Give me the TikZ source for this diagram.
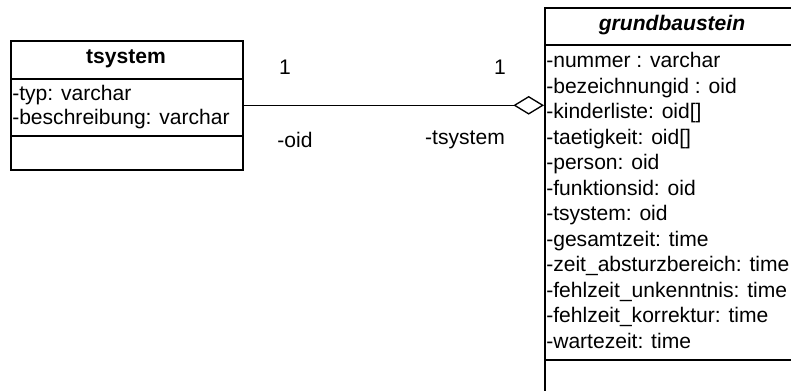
\documentclass[tikz,border=0pt]{standalone}
\usepackage{fontspec}
\setmainfont{Liberation Sans}
\usetikzlibrary{arrows.meta,positioning}

\begin{document}
\begin{tikzpicture}[
  x=0.75pt, y=-0.75pt,
  classbox/.style={draw, line width=1.2pt, inner sep=0pt, anchor=north west},
  classname/.style={font=\fontsize{15.8}{18}\selectfont\bfseries},
  attr/.style={font=\fontsize{15.8}{18}\selectfont, anchor=west, inner sep=0pt,
    text height=11.5pt, text depth=3pt},
  headsep/.style={line width=1pt},
  opsep/.style={line width=1.5pt},
  aggr/.style={-{Diamond[open, length=23pt, width=14pt, line width=1pt]}, line width=0.9pt},
  rolelabel/.style={font=\fontsize{15.8}{18}\selectfont},
]
\useasboundingbox (0,0) rectangle (791,390);
\clip (0,0) rectangle (791,390);

% ===== tsystem =====
\node[classbox, minimum width=174pt, minimum height=96.75pt] (tsys) at (10,40) {};
\node[classname] (tsysname) at (126,59) {tsystem};
\draw[headsep] (tsys.north west |- 0,79) -- (tsys.north east |- 0,79);
\node[attr] (ta1) at (12,95) {-typ: varchar};
\node[attr] (ta2) at (12,119) {-beschreibung: varchar};
\draw[opsep] (tsys.north west |- 0,136) -- (tsys.north east |- 0,136);

% ===== grundbaustein =====
\node[classbox, minimum width=192pt, minimum height=294.75pt] (grund) at (544,7) {};
\node[classname, font=\fontsize{15.8}{18}\selectfont\bfseries\itshape] (grundname) at (672,25) {grundbaustein};
\draw[headsep] (grund.north west |- 0,45) -- (grund.north east |- 0,45);
\foreach \txt [count=\i] in {
  {-nummer : varchar},
  {-bezeichnungid : oid},
  {-kinderliste: oid[]},
  {-taetigkeit: oid[]},
  {-person: oid},
  {-funktionsid: oid},
  {-tsystem: oid},
  {-gesamtzeit: time},
  {-zeit\_absturzbereich: time},
  {-fehlzeit\_unkenntnis: time},
  {-fehlzeit\_korrektur: time},
  {-wartezeit: time}}
  \node[attr] (ga\i) at (546, 36.5+25.5*\i) {\txt};
\draw[opsep] (grund.north west |- 0,360) -- (grund.north east |- 0,360);

% ===== aggregation =====
\draw[aggr] (tsys.east) -- (grund.west |- tsys.east);
\node[rolelabel] (mult1) at (285,67) {1};
\node[rolelabel] (mult2) at (500,67) {1};
\node[rolelabel] (role1) at (295,140) {-oid};
\node[rolelabel] (role2) at (465,140) {-tsystem};

\end{tikzpicture}
\end{document}
